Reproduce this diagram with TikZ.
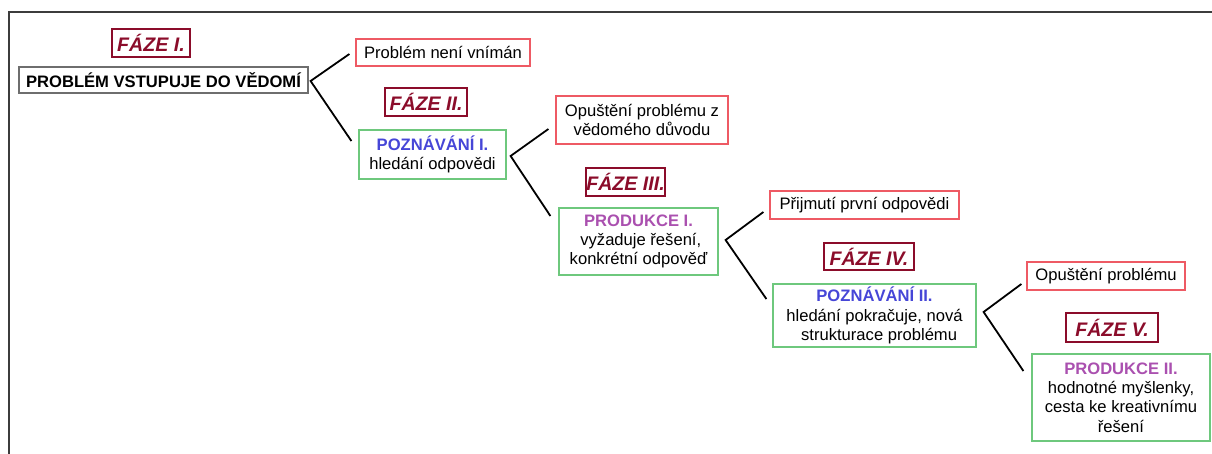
\documentclass[tikz,border=0pt]{standalone}
\usepackage{fontspec}
\setmainfont{Liberation Sans}
\usetikzlibrary{calc}
\definecolor{fazered}{RGB}{139,12,42}
\definecolor{boxred}{RGB}{238,90,100}
\definecolor{boxgreen}{RGB}{110,200,125}
\definecolor{boxgray}{RGB}{110,110,110}
\definecolor{headblue}{RGB}{70,70,215}
\definecolor{headpurple}{RGB}{170,80,175}
\definecolor{framegray}{RGB}{60,60,60}
\tikzset{
  base/.style={inner sep=0pt, align=center, font=\fontsize{8.3}{9.6}\selectfont, text=black},
  faze/.style={base, draw=fazered, line width=1.2pt, text=fazered, font=\fontsize{9.8}{11}\selectfont\bfseries\itshape},
  mainbox/.style={base, draw=boxgray, line width=0.6pt, font=\fontsize{8.3}{9.6}\selectfont\bfseries},
  redbox/.style={base, draw=boxred, line width=0.6pt},
  greenbox/.style={base, draw=boxgreen, line width=0.6pt},
  conn/.style={line width=0.9pt, black},
  sz/.style 2 args={minimum width=#1*0.5pt, minimum height=#2*0.5pt},
}
\newcommand{\hb}[1]{\textcolor{headblue}{\bfseries #1}}
\newcommand{\hp}[1]{\textcolor{headpurple}{\bfseries #1}}
\begin{document}
\begin{tikzpicture}[x=0.5pt,y=-0.5pt]
\useasboundingbox (0,0) rectangle (1212,454);
% frame
\draw[framegray, line width=1pt] (9,454) -- (9,12) -- (1212,12);
% nodes
\node[faze, sz={78}{28}] (f1) at (151,43) {FÁZE I.};
\node[mainbox, sz={289}{26}] (main) at (163.5,80) {PROBLÉM VSTUPUJE DO VĚDOMÍ};
\node[redbox, sz={174}{27}] (n1) at (443,52.5) {Problém není vnímán};
\node[faze, sz={82}{28}] (f2) at (426,102) {FÁZE II.};
\node[greenbox, sz={147}{49}] (p1) at (432.5,154.5) {\hb{POZNÁVÁNÍ I.}\\hledání odpovědi};
\node[redbox, sz={172}{48}] (n2) at (642,120) {Opuštění problému z\\vědomého důvodu};
\node[faze, sz={79}{28}] (f3) at (625.5,182) {FÁZE III.};
\node[greenbox, sz={159}{67}] (pr1) at (638.5,241.5) {\hp{PRODUKCE I.}\\\ vyžaduje řešení,\\konkrétní odpověď};
\node[redbox, sz={189}{28}] (n3) at (864.5,205) {Přijmutí první odpovědi};
\node[faze, sz={90}{27}] (f4) at (869,256.5) {FÁZE IV.};
\node[greenbox, sz={203}{63}] (p2) at (874.5,315.5) {\hb{POZNÁVÁNÍ II.}\\hledání pokračuje, nová\\\ \ strukturace problému};
\node[redbox, sz={158}{28}] (n4) at (1106,276) {Opuštění problému};
\node[faze, sz={92}{29}] (f5) at (1112,327.5) {FÁZE V.};
\node[greenbox, sz={178}{87}] (pr2) at (1121,397.5) {\hp{PRODUKCE II.}\\hodnotné myšlenky,\\cesta ke kreativnímu\\řešení};
% connector coordinates
\coordinate (v1) at ($(main.east)+(2,1)$);
\coordinate (a1) at ($(n1.west)+(-6,1.5)$);
\coordinate (b1) at ($(p1.west)+(-7,-13.5)$);
\coordinate (v2) at ($(p1.east)+(4,1.5)$);
\coordinate (a2) at ($(n2.west)+(-7,9)$);
\coordinate (b2) at ($(pr1.west)+(-8,-25.5)$);
\coordinate (v3) at ($(pr1.east)+(7,-1.5)$);
\coordinate (a3) at ($(n3.west)+(-6,7)$);
\coordinate (b3) at ($(p2.west)+(-6,-16.5)$);
\coordinate (v4) at ($(p2.east)+(7,-3.5)$);
\coordinate (a4) at ($(n4.west)+(-5,8)$);
\coordinate (b4) at ($(pr2.west)+(-8,-26.5)$);
% connectors
\draw[conn] (a1) -- (v1) -- (b1);
\draw[conn] (a2) -- (v2) -- (b2);
\draw[conn] (a3) -- (v3) -- (b3);
\draw[conn] (a4) -- (v4) -- (b4);
\end{tikzpicture}
\end{document}
